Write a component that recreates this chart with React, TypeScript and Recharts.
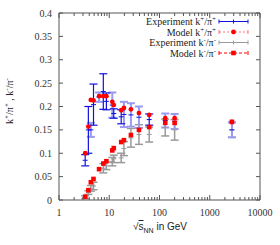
import { ComposedChart, ErrorBar, Legend, Scatter, XAxis, YAxis } from 'recharts';

// collision energy (GeV) for the model points
const energies = [3.32, 3.84, 4.3, 4.86, 6.27, 7.62, 8.77, 11.5, 12.3, 17.3, 19.6, 27, 39, 62.4, 130, 200, 2760];
const modelKPlus = [0.1, 0.157, 0.214, 0.213, 0.222, 0.222, 0.222, 0.21, 0.203, 0.192, 0.197, 0.194, 0.186, 0.182, 0.175, 0.175, 0.167];
const modelKMinus = [0.007, 0.021, 0.038, 0.045, 0.066, 0.078, 0.083, 0.106, 0.111, 0.124, 0.128, 0.139, 0.15, 0.156, 0.165, 0.165, 0.167];

// experiment k+/pi+ (solid bars)
const expKPlusE = [3.32, 3.84, 4.86, 7.62, 8.77, 12.3, 17.3, 62.4];
const expKPlus = [0.085, 0.15, 0.204, 0.232, 0.211, 0.185, 0.178, 0.172];
const expKPlusErr = [0.012, 0.05, 0.044, 0.038, 0.018, 0.01, 0.015, 0.012];

// experiment k+/pi+ (pale bars)
const expKPlusPaleE = [4.3, 6.27, 11.5, 19.6, 27, 39, 130, 200, 2760];
const expKPlusPale = [0.15, 0.22, 0.203, 0.183, 0.182, 0.177, 0.17, 0.168, 0.15];
const expKPlusPaleErr = [0.015, 0.01, 0.027, 0.027, 0.025, 0.023, 0.015, 0.016, 0.016];

// experiment k-/pi-
const expKMinusE = [3.32, 3.84, 4.3, 4.86, 7.62, 8.77, 11.5, 12.3, 17.3, 19.6, 27, 39, 62.4, 130, 200, 2760];
const expKMinus = [0.006, 0.016, 0.025, 0.03, 0.068, 0.073, 0.082, 0.088, 0.09, 0.11, 0.133, 0.14, 0.14, 0.155, 0.15, 0.15];
const expKMinusErr = [0.003, 0.004, 0.006, 0.008, 0.01, 0.008, 0.009, 0.008, 0.01, 0.015, 0.02, 0.021, 0.016, 0.018, 0.022, 0.016];

const yTicks = [0, 0.05, 0.1, 0.15, 0.2, 0.25, 0.3, 0.35, 0.4];
const xTicks = [1, 10, 100, 1000].flatMap((d) => [1, 2, 3, 4, 5, 6, 7, 8, 9].map((m) => m * d)).concat([10000]);

const zip = (xs: number[], ys: number[], es?: number[]) =>
  xs.map((x, i) => ({ x, y: ys[i], err: es ? es[i] : 0 }));

const modelPlusData = zip(energies, modelKPlus);
const modelMinusData = zip(energies, modelKMinus);
const expPlusData = zip(expKPlusE, expKPlus, expKPlusErr);
const expPlusPaleData = zip(expKPlusPaleE, expKPlusPale, expKPlusPaleErr);
const expMinusData = zip(expKMinusE, expKMinus, expKMinusErr);

const SERIF = '"Liberation Serif", "DejaVu Serif", serif';
const SANS = '"Liberation Sans", Arial, sans-serif';
const FRAME = '#555';
const BLUE = '#1010e0';
const PALE = '#9a9af0';
const GRAY = '#9a9a9a';
const RED = '#ff0000';

const isMajor = (v: number) => Math.abs(Math.log10(v) - Math.round(Math.log10(v))) < 1e-6;

function BottomTick(props: any) {
  const { x, y, payload } = props;
  const v = payload.value;
  const len = isMajor(v) ? 5 : 3;
  return (
    <g>
      <line x1={x} x2={x} y1={y} y2={y - len} stroke={FRAME} />
      {isMajor(v) && (
        <text x={x} y={y + 16} textAnchor="middle" fontFamily={SERIF} fontSize={10} fill="#333">
          {v}
        </text>
      )}
    </g>
  );
}

function TopTick(props: any) {
  const { x, y, payload } = props;
  const len = isMajor(payload.value) ? 5 : 3;
  return <line x1={x} x2={x} y1={y} y2={y + len} stroke={FRAME} />;
}

function LeftTick(props: any) {
  const { x, y, payload } = props;
  return (
    <g>
      <line x1={x} x2={x + 4} y1={y} y2={y} stroke={FRAME} />
      <text x={x - 7} y={y} dy="0.35em" textAnchor="end" fontFamily={SERIF} fontSize={10} fill="#333">
        {String(+payload.value.toFixed(2))}
      </text>
    </g>
  );
}

function RightTick(props: any) {
  const { x, y } = props;
  return <line x1={x} x2={x - 4} y1={y} y2={y} stroke={FRAME} />;
}

const crossShape = (color: string) => (p: any) =>
  <line x1={p.cx - 2.5} x2={p.cx + 2.5} y1={p.cy} y2={p.cy} stroke={color} strokeWidth={1} />;

const squareShape = (p: any) => <rect x={p.cx - 2.3} y={p.cy - 2.3} width={4.6} height={4.6} fill={RED} />;
const dotShape = (p: any) => <circle cx={p.cx} cy={p.cy} r={2.4} fill={RED} />;

function Ratio({ sign }: { sign: string }) {
  return (
    <>
      <tspan>k</tspan>
      <tspan dy={-4} fontSize={7}>{sign}</tspan>
      <tspan dy={4}>/π</tspan>
      <tspan dy={-4} fontSize={7}>{sign}</tspan>
      <tspan dy={4}> </tspan>
    </>
  );
}

const legendRows = [
  { label: 'Experiment', sign: '+', color: BLUE, dash: undefined, marker: 'cross' },
  { label: 'Model', sign: '+', color: '#ff7070', dash: '2 2', marker: 'dot' },
  { label: 'Experiment', sign: '-', color: GRAY, dash: undefined, marker: 'cross' },
  { label: 'Model', sign: '-', color: RED, dash: '3 2', marker: 'square' },
];

function LegendBox() {
  const x0 = 219;
  const x1 = 248;
  const xm = (x0 + x1) / 2;
  return (
    <svg width={280} height={70} style={{ display: 'block' }}>
      {legendRows.map((r, i) => {
        const y = 21.5 + i * 10.5;
        return (
          <g key={i}>
            <text x={216} y={y} dy="0.35em" textAnchor="end" fontFamily={SERIF} fontSize={10} fill="#222">
              {r.label} <Ratio sign={r.sign} />
            </text>
            <line x1={x0} x2={x1} y1={y} y2={y} stroke={r.color} strokeDasharray={r.dash} />
            <line x1={x0} x2={x0} y1={y - 2} y2={y + 2} stroke={r.color} />
            <line x1={x1} x2={x1} y1={y - 2} y2={y + 2} stroke={r.color} />
            {r.marker === 'cross' && <line x1={xm} x2={xm} y1={y - 2} y2={y + 2} stroke={r.color} />}
            {r.marker === 'dot' && <circle cx={xm} cy={y} r={2.4} fill={RED} />}
            {r.marker === 'square' && <rect x={xm - 2.3} y={y - 2.3} width={4.6} height={4.6} fill={RED} />}
          </g>
        );
      })}
    </svg>
  );
}

export default function App() {
  return (
    <div style={{ position: 'absolute', left: 0, top: 0, width: 280, height: 245, background: '#fff' }}>
      <ComposedChart width={280} height={245} margin={{ top: 0, right: 0, bottom: 0, left: 0 }}>
        <XAxis
          xAxisId="b"
          dataKey="x"
          type="number"
          scale="log"
          domain={[1, 10000]}
          ticks={xTicks}
          interval={0}
          allowDataOverflow
          height={45}
          tickSize={0}
          tickMargin={0}
          tickLine={false}
          axisLine={{ stroke: FRAME }}
          tick={BottomTick}
        />
        <XAxis
          xAxisId="t"
          orientation="top"
          dataKey="x"
          type="number"
          scale="log"
          domain={[1, 10000]}
          ticks={xTicks}
          interval={0}
          allowDataOverflow
          height={13}
          tickSize={0}
          tickMargin={0}
          tickLine={false}
          axisLine={{ stroke: FRAME }}
          tick={TopTick}
        />
        <YAxis
          yAxisId="l"
          dataKey="y"
          type="number"
          domain={[0, 0.4]}
          ticks={yTicks}
          interval={0}
          allowDataOverflow
          width={59}
          tickSize={0}
          tickMargin={0}
          tickLine={false}
          axisLine={{ stroke: FRAME }}
          tick={LeftTick}
          label={{
            content: () => (
              <text
                transform="translate(13,101) rotate(-90)"
                textAnchor="middle"
                fontFamily={SERIF}
                fontSize={10}
                fill="#222"
              >
                <Ratio sign="+" />
                <tspan>, </tspan>
                <Ratio sign="-" />
              </text>
            ),
          }}
        />
        <YAxis
          yAxisId="r"
          dataKey="y"
          orientation="right"
          type="number"
          domain={[0, 0.4]}
          ticks={yTicks}
          interval={0}
          allowDataOverflow
          width={20}
          tickSize={0}
          tickMargin={0}
          tickLine={false}
          axisLine={{ stroke: FRAME }}
          tick={RightTick}
        />
        <Legend
          verticalAlign="middle"
          align="center"
          layout="horizontal"
          wrapperStyle={{ left: 0, top: 0, width: 280, height: 70 }}
          content={() => <LegendBox />}
        />
        <Scatter name="Experiment k-/pi- " data={expMinusData} dataKey="y" xAxisId="b" yAxisId="l" shape={crossShape(GRAY)} isAnimationActive={false}>
          <ErrorBar dataKey="err" direction="y" width={4} stroke={GRAY} strokeWidth={1.5} />
        </Scatter>
        <Scatter name="Experiment k+/pi+ pale" data={expPlusPaleData} dataKey="y" xAxisId="b" yAxisId="l" shape={crossShape(BLUE)} isAnimationActive={false}>
          <ErrorBar dataKey="err" direction="y" width={4} stroke={PALE} strokeWidth={2} />
        </Scatter>
        <Scatter name="Experiment k+/pi+" data={expPlusData} dataKey="y" xAxisId="b" yAxisId="l" shape={crossShape(BLUE)} isAnimationActive={false}>
          <ErrorBar dataKey="err" direction="y" width={4} stroke={BLUE} strokeWidth={1.2} />
        </Scatter>
        <Scatter name="Model k-/pi-" data={modelMinusData} dataKey="y" xAxisId="b" yAxisId="l" shape={squareShape} isAnimationActive={false} />
        <Scatter name="Model k+/pi+" data={modelPlusData} dataKey="y" xAxisId="b" yAxisId="l" shape={dotShape} isAnimationActive={false} />
      </ComposedChart>
      <svg width={280} height={245} style={{ position: 'absolute', left: 0, top: 0, pointerEvents: 'none' }}>
        <text x={160} y={230} textAnchor="middle" fontFamily={SANS} fontSize={10} fill="#222">
          <tspan>√</tspan>
          <tspan textDecoration="overline" style={{ textDecoration: 'overline' }}>s</tspan>
          <tspan dy={3} fontSize={7}>NN</tspan>
          <tspan dy={-3}> in GeV</tspan>
        </text>
      </svg>
    </div>
  );
}
